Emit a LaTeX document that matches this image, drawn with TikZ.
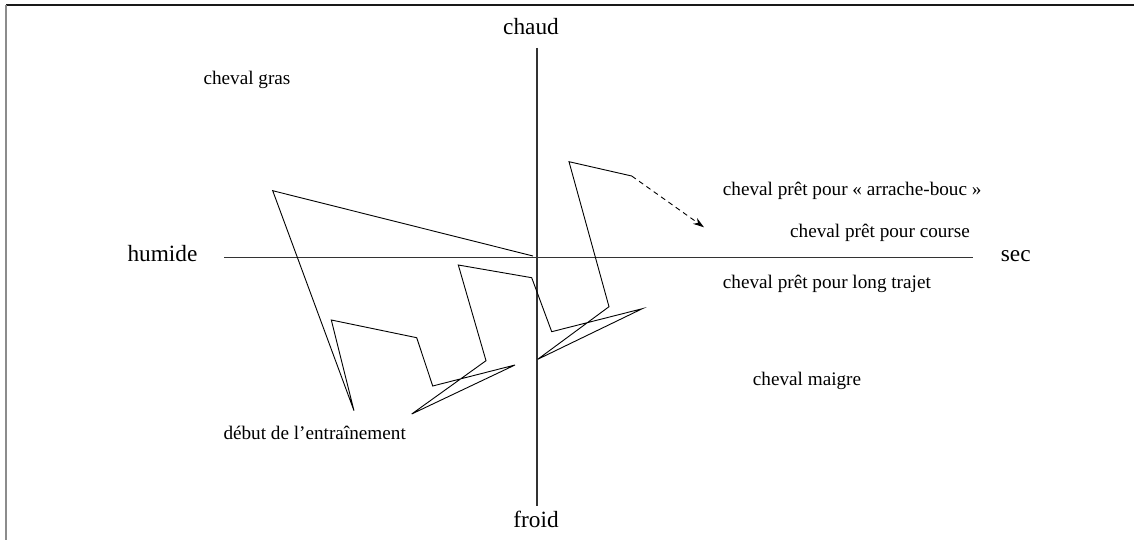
\documentclass[tikz,border=0pt]{standalone}
\usepackage{fontspec}
\setmainfont{Liberation Serif}
\usetikzlibrary{arrows.meta}
\begin{document}
\begin{tikzpicture}[x=1pt,y=-1pt,
  axis/.style={line width=1.8pt, draw=black!80},
  traj/.style={line width=0.9pt, line join=miter},
  axlabel/.style={inner sep=0pt, font=\fontsize{23.3}{26}\selectfont},
  lbl/.style={inner sep=0pt, anchor=base west, font=\fontsize{19.2}{22}\selectfont}]
\useasboundingbox (0,0) rectangle (1134,540);
\fill[white] (0,0) rectangle (1134,540);
% frame
\draw[line width=1.2pt, black!90] (6,5) -- (1134,5);
\draw[line width=1.6pt, black!45] (6,5) -- (6,540);
% axes
\coordinate (hl) at (224,257.5);
\coordinate (hr) at (973,257.5);
\coordinate (vt) at (537,48);
\coordinate (vb) at (537,506);
\draw[axis] (hl) -- (hr);
\draw[axis] (vt) -- (vb);
% axis labels
\node[axlabel, anchor=base] (chaud) at (531,34.3) {chaud};
\node[axlabel, anchor=base] (froid) at (536,527.7) {froid};
\node[axlabel, anchor=base west] (humide) at (127.3,261.7) {humide};
\node[axlabel, anchor=base west] (sec) at (1000.7,261.7) {sec};
% labels
\node[lbl] (gras) at (203.3,85) {cheval gras};
\node[lbl] (arr) at (722.7,195) {cheval prêt pour « arrache-bouc »};
\node[lbl] (course) at (790,237.7) {cheval prêt pour course};
\node[lbl] (long) at (722.7,288) {cheval prêt pour long trajet};
\node[lbl] (maigre) at (752.7,385) {cheval maigre};
\node[lbl] (debut) at (223.3,439) {début de l’entraînement};
% trajectory points
\coordinate (p0) at (533,256);
\coordinate (p1) at (272.7,190.7);
\coordinate (p2) at (354,410.7);
\coordinate (p3) at (331.3,320);
\coordinate (p4) at (416.7,337.7);
\coordinate (p5) at (432.7,386);
\coordinate (p6) at (515,365);
\coordinate (p7) at (411.7,414);
\coordinate (p8) at (486,360.7);
\coordinate (p9) at (458.3,265);
\coordinate (p10) at (531.7,277.7);
\coordinate (p11) at (551.7,331.7);
\coordinate (p12) at (642.3,308.7);
\coordinate (p13) at (537.7,359.3);
\coordinate (p14) at (609,306.7);
\coordinate (p15) at (569,161.7);
\coordinate (p16) at (631.7,176);
\coordinate (p17) at (704,227.3);
\draw[traj] (p0) -- (p1) -- (p2) -- (p3) -- (p4) -- (p5) -- (p6) -- (p7) -- (p8)
  -- (p9) -- (p10) -- (p11) -- (p12) -- (p13) -- (p14) -- (p15) -- (p16);
\draw[traj, dash pattern=on 5pt off 4pt, -{Stealth[length=11pt,width=7pt]}] (p16) -- (p17);
\end{tikzpicture}
\end{document}
